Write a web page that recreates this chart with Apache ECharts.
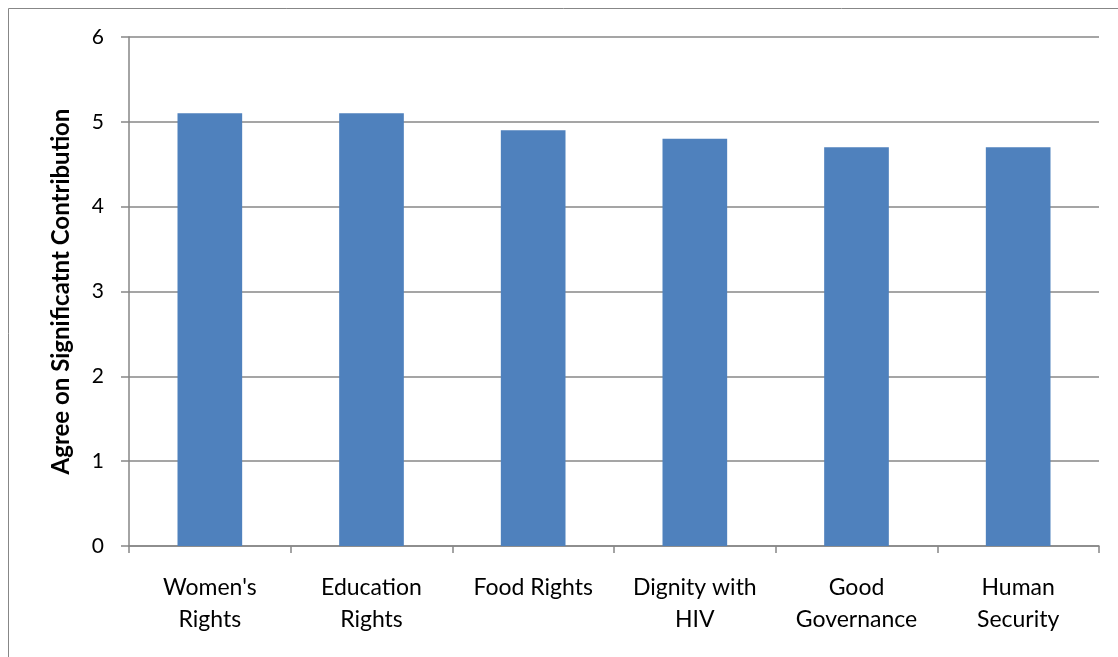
<!DOCTYPE html>
<html>
<head>
<meta charset="utf-8">
<script src="https://cdn.jsdelivr.net/npm/echarts@6/dist/echarts.min.js"></script>
<style>
  html, body { margin: 0; padding: 0; background: #fff; }
  #chart { width: 1118px; height: 657px; }
</style>
</head>
<body>
<div id="chart"></div>
<script>
// Categories along the x axis
const categories = [
  "Women's\nRights",
  "Education\nRights",
  "Food Rights",
  "Dignity with\nHIV",
  "Good\nGovernance",
  "Human\nSecurity"
];
// Mean agreement score for each category
const scores = [5.1, 5.1, 4.9, 4.8, 4.7, 4.7];
const yTicks = [0, 1, 2, 3, 4, 5, 6];
const yTitle = 'Agree on Significatnt Contribution';

const font = 'Lato, "Open Sans", sans-serif';
const chart = echarts.init(document.getElementById('chart'));
chart.setOption({
  animation: false,
  graphic: [{
    type: 'rect',
    shape: { x: 8.5, y: 8.5, width: 1200, height: 800 },
    style: { fill: 'none', stroke: '#878787', lineWidth: 1 },
    silent: true
  }],
  grid: { left: 129, right: 19, top: 37, bottom: 111, containLabel: false },
  xAxis: {
    type: 'category',
    data: categories,
    axisLine: { lineStyle: { color: '#868686', width: 1.5 } },
    axisTick: { show: true, length: 7, alignWithLabel: false, lineStyle: { color: '#868686', width: 1.5 } },
    axisLabel: { color: '#000', fontFamily: font, fontSize: 23, lineHeight: 32, margin: 26, interval: 0 }
  },
  yAxis: {
    type: 'value',
    min: 0, max: 6, interval: 1,
    name: yTitle,
    nameLocation: 'middle',
    nameGap: 56,
    nameTextStyle: { color: '#000', fontFamily: font, fontSize: 24, fontWeight: 'bold' },
    axisLine: { show: true, lineStyle: { color: '#868686', width: 1.5 } },
    axisTick: { show: true, length: 8, lineStyle: { color: '#868686', width: 1.5 } },
    axisLabel: {
      color: '#000', fontFamily: font, fontSize: 21, margin: 25,
      formatter: v => yTicks.includes(v) ? String(v) : ''
    },
    splitLine: { show: true, lineStyle: { color: '#878787', width: 1.5 } }
  },
  series: [{
    type: 'bar',
    data: scores,
    barWidth: '40%',
    itemStyle: { color: '#4F81BD' }
  }]
});
</script>
</body>
</html>
